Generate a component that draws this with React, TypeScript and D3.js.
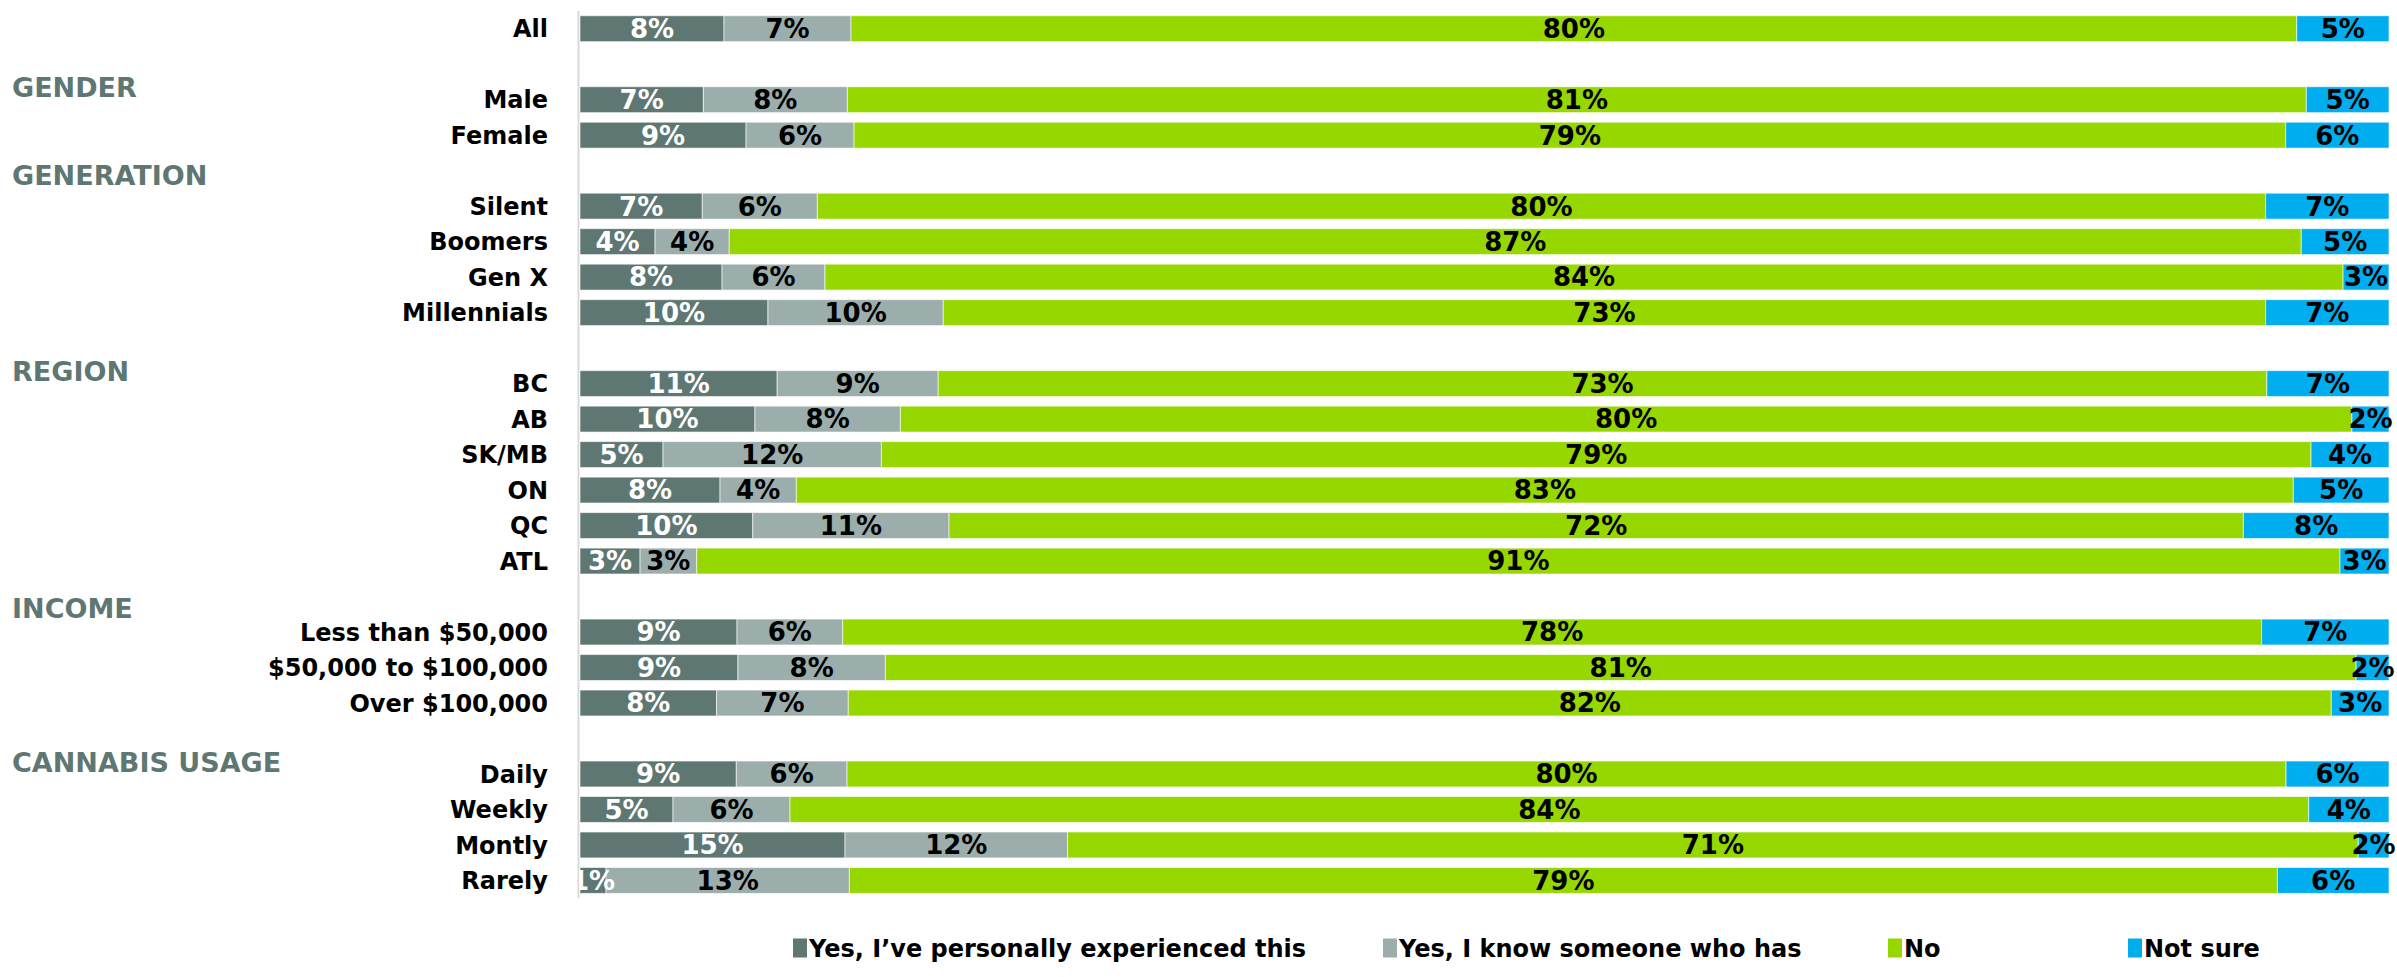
import React from "react";
import * as d3 from "d3";

const categories = [
  "All",
  "Male", "Female",
  "Silent", "Boomers", "Gen X", "Millennials",
  "BC", "AB", "SK/MB", "ON", "QC", "ATL",
  "Less than $50,000", "$50,000 to $100,000", "Over $100,000",
  "Daily", "Weekly", "Montly", "Rarely",
];

// group headers and the first category they precede
const groupHeaders = ["GENDER", "GENERATION", "REGION", "INCOME", "CANNABIS USAGE"];
const groupStarts = ["Male", "Silent", "BC", "Less than $50,000", "Daily"];

const seriesNames = [
  "Yes, I\u2019ve personally experienced this",
  "Yes, I know someone who has",
  "No",
  "Not sure",
];

const yesPersonal = [7.96, 6.82, 9.18, 6.76, 4.15, 7.85, 10.39, 10.9, 9.67, 4.59, 7.74, 9.55, 3.32, 8.68, 8.73, 7.55, 8.64, 5.14, 14.65, 1.44];
const yesSomeone = [7.02, 7.96, 5.97, 6.36, 4.1, 5.69, 9.69, 8.9, 8.04, 12.07, 4.22, 10.85, 3.13, 5.84, 8.15, 7.28, 6.12, 6.47, 12.3, 13.45];
const noValues = [79.92, 80.65, 79.14, 80.06, 86.9, 83.92, 73.1, 73.45, 80.24, 79.03, 82.75, 71.55, 90.84, 78.44, 81.3, 81.98, 79.55, 83.95, 71.35, 78.94];
const notSure = [5.1, 4.57, 5.71, 6.82, 4.85, 2.54, 6.82, 6.75, 2.05, 4.31, 5.29, 8.05, 2.71, 7.04, 1.82, 3.19, 5.69, 4.44, 1.7, 6.17];

const KEYS = ["s0", "s1", "s2", "s3"];
const COLORS = ["#5F7773", "#9BAEAC", "#97D700", "#00AEEF"];
const LABEL_COLORS = ["#FFFFFF", "#000000", "#000000", "#000000"];
const HEADER_COLOR = "#5F7773";
const FONT = "'DejaVu Sans', 'Open Sans', sans-serif";

const W = 2397;
const H = 977;

// header vertical offset relative to the row center it precedes (px)
const headerOffsets = [-12, -31, -12, -24, -12];

export default function App() {
  // build slots: a blank slot is inserted before each group
  const slots: { key: string; cat: string | null }[] = [];
  categories.forEach((c, i) => {
    const gi = groupStarts.indexOf(c);
    if (gi >= 0) slots.push({ key: "blank-" + gi, cat: null });
    slots.push({ key: "cat-" + i, cat: c });
  });

  const rows = categories.map((c, i) => ({
    cat: c,
    s0: yesPersonal[i],
    s1: yesSomeone[i],
    s2: noValues[i],
    s3: notSure[i],
  }));

  const stack = d3.stack<any>().keys(KEYS);
  const stacked = stack(rows);

  const x = d3.scaleLinear().domain([0, 100]).range([580, 2389]);
  const y = d3
    .scaleBand<string>()
    .domain(slots.map((s) => s.key))
    .range([10.95, 898.2])
    .paddingInner(0.27)
    .paddingOuter(0.135);

  const keyOf = (cat: string) => "cat-" + categories.indexOf(cat);
  const bw = y.bandwidth();

  const legendX = [793, 1383, 1888, 2128];
  const legendY = 948;

  return (
    <svg
      width={W}
      height={H}
      style={{ position: "absolute", left: 0, top: 0, background: "#fff" }}
      fontFamily={FONT}
    >
      <defs>
        <clipPath id="plotClip">
          <rect x={579} y={0} width={W - 579} height={H} />
        </clipPath>
      </defs>

      {/* axis line */}
      <line x1={578.5} x2={578.5} y1={11} y2={898} stroke="#D9D9D9" strokeWidth={2} />

      {/* bars */}
      {stacked.map((layer, li) => (
        <g key={layer.key} fill={COLORS[li]}>
          {layer.map((d: any, i: number) => (
            <rect
              key={i}
              x={x(d[0])}
              width={x(d[1]) - x(d[0])}
              y={y(keyOf(d.data.cat))}
              height={bw}
              stroke="#FFFFFF"
              strokeOpacity={0.6}
              strokeWidth={1}
            />
          ))}
        </g>
      ))}

      {/* value labels */}
      <g clipPath="url(#plotClip)" fontWeight={700} fontSize={26} textAnchor="middle">
        {stacked.map((layer, li) => (
          <g key={layer.key} fill={LABEL_COLORS[li]}>
            {layer.map((d: any, i: number) => (
              <text
                key={i}
                x={(x(d[0]) + x(d[1])) / 2}
                y={(y(keyOf(d.data.cat)) as number) + bw / 2}
                dy="0.36em"
              >
                {Math.round(d.data[KEYS[li]]) + "%"}
              </text>
            ))}
          </g>
        ))}
      </g>

      {/* category labels */}
      <g fontWeight={700} fontSize={24} textAnchor="end" fill="#000">
        {categories.map((c) => (
          <text key={c} x={548} y={(y(keyOf(c)) as number) + bw / 2} dy="0.36em">
            {c}
          </text>
        ))}
      </g>

      {/* group headers */}
      <g fontWeight={700} fontSize={27} fill={HEADER_COLOR}>
        {groupHeaders.map((g, gi) => (
          <text
            key={g}
            x={12}
            y={(y(keyOf(groupStarts[gi])) as number) + bw / 2 + headerOffsets[gi]}
            dy="0.36em"
          >
            {g}
          </text>
        ))}
      </g>

      {/* legend */}
      <g fontWeight={700} fontSize={24}>
        {seriesNames.map((s, i) => (
          <g key={s} transform={`translate(${legendX[i]},${legendY})`}>
            <rect x={0} y={-9.5} width={14} height={19} fill={COLORS[i]} />
            <text x={16} y={0} dy="0.36em" fill="#000">
              {s}
            </text>
          </g>
        ))}
      </g>
    </svg>
  );
}
